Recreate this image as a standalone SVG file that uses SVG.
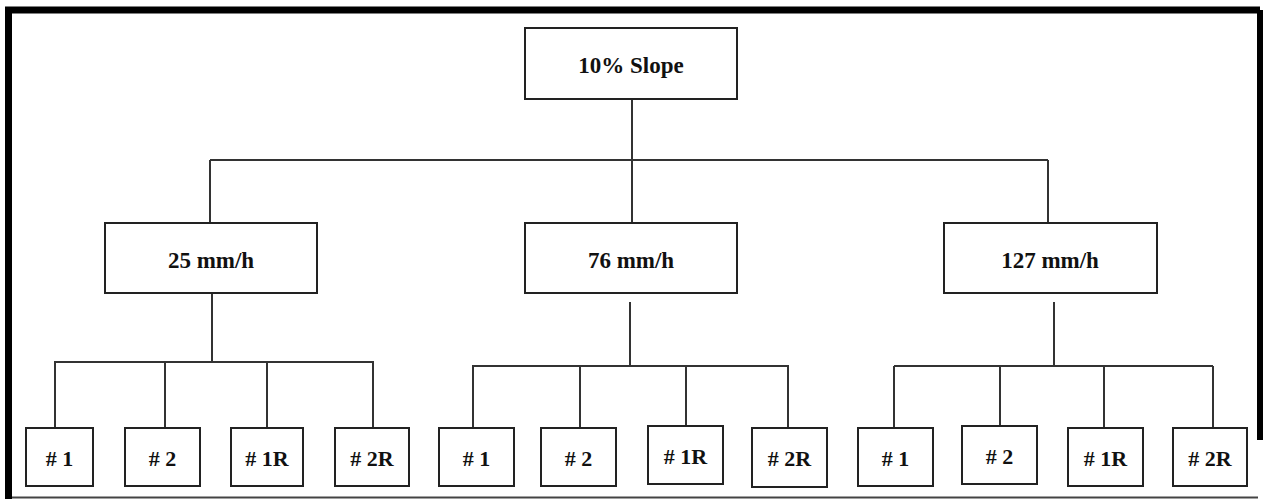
<svg xmlns="http://www.w3.org/2000/svg" width="1263" height="499" viewBox="0 0 1263 499">
<style>
.box{fill:#fff;stroke:#222;stroke-width:2}
.lbl{font-family:"Liberation Serif","Times New Roman",serif;font-weight:bold;font-size:23px;fill:#111;text-anchor:middle}
.sm{font-size:22px}
.con{fill:none;stroke:#333;stroke-width:2}
</style>
<rect x="0" y="0" width="1263" height="499" fill="#fff"/>
<g id="frame">
<path d="M8.5,499 V10 H1260" fill="none" stroke="#000" stroke-width="7"/>
<line x1="1260" y1="10" x2="1260" y2="440" stroke="#000" stroke-width="6"/>
<line x1="12" y1="497.5" x2="1258" y2="497.5" stroke="#444" stroke-width="2"/>
</g>
<g id="connectors">
<path class="con" d="M632,99 V160 M210,160 H1048 M210,160 V223 M632,160 V223 M1048,160 V223"/>
<path class="con" d="M212,293 V362 M54,362 H374 M55,362 V428 M165,362 V428 M267,362 V428 M373,362 V428"/>
<path class="con" d="M630,302 V366 M472,366 H789 M473,366 V428 M580,366 V428 M686,366 V426 M788,366 V428"/>
<path class="con" d="M1054,302 V366 M894,366 H1213 M894,366 V428 M1000,366 V426 M1104,366 V428 M1213,366 V428"/>
</g>
<g id="n-slope"><rect class="box" x="525" y="28" width="212" height="71"/><text class="lbl" x="631" y="73">10% Slope</text></g>
<g id="n-25"><rect class="box" x="105" y="223" width="212" height="70"/><text class="lbl" x="211" y="268">25 mm/h</text></g>
<g id="n-76"><rect class="box" x="525" y="223" width="212" height="70"/><text class="lbl" x="631" y="268">76 mm/h</text></g>
<g id="n-127"><rect class="box" x="944" y="223" width="213" height="70"/><text class="lbl" x="1050" y="268">127 mm/h</text></g>
<g id="n-25-1"><rect class="box" x="26" y="428" width="67" height="58"/><text class="lbl sm" x="59.5" y="466"># 1</text></g>
<g id="n-25-2"><rect class="box" x="125" y="428" width="75" height="58"/><text class="lbl sm" x="162.5" y="466"># 2</text></g>
<g id="n-25-1r"><rect class="box" x="231" y="428" width="72" height="58"/><text class="lbl sm" x="267" y="466"># 1R</text></g>
<g id="n-25-2r"><rect class="box" x="335" y="428" width="74" height="58"/><text class="lbl sm" x="372" y="466"># 2R</text></g>
<g id="n-76-1"><rect class="box" x="439" y="428" width="75" height="58"/><text class="lbl sm" x="476.5" y="466"># 1</text></g>
<g id="n-76-2"><rect class="box" x="541" y="428" width="75" height="58"/><text class="lbl sm" x="578.5" y="466"># 2</text></g>
<g id="n-76-1r"><rect class="box" x="648" y="426" width="75" height="58"/><text class="lbl sm" x="685.5" y="464"># 1R</text></g>
<g id="n-76-2r"><rect class="box" x="752" y="428" width="75" height="59"/><text class="lbl sm" x="789.5" y="466"># 2R</text></g>
<g id="n-127-1"><rect class="box" x="858" y="428" width="75" height="58"/><text class="lbl sm" x="895.5" y="466"># 1</text></g>
<g id="n-127-2"><rect class="box" x="962" y="426" width="75" height="58"/><text class="lbl sm" x="999.5" y="464"># 2</text></g>
<g id="n-127-1r"><rect class="box" x="1068" y="428" width="75" height="58"/><text class="lbl sm" x="1105.5" y="466"># 1R</text></g>
<g id="n-127-2r"><rect class="box" x="1173" y="428" width="74" height="58"/><text class="lbl sm" x="1210" y="466"># 2R</text></g>
</svg>
